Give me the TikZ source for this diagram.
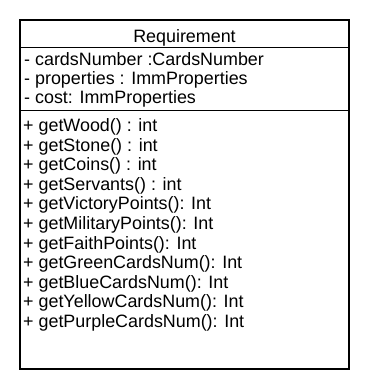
\documentclass[tikz,border=0pt]{standalone}
\usepackage{fontspec}
\setmainfont{Liberation Sans}
\begin{document}
\begin{tikzpicture}[x=1pt,y=-1pt,
  frame/.style={line width=1.2pt},
  member/.style={anchor=base west, inner sep=0pt, font=\fontsize{17.9}{19.6}\selectfont},
  title/.style={anchor=base, inner sep=0pt, font=\fontsize{17.9}{19.6}\selectfont}]
\useasboundingbox (0,0) rectangle (370,390);
\fill[white] (0,0) rectangle (370,390);

% class box with its three compartments
\draw[frame] (20,20) rectangle (349,369);
\draw[frame] (20,47.5) -- (349,47.5);
\draw[frame] (20,110.5) -- (349,110.5);

\node[title] (name) at (184.5,42.5) {Requirement};

% attributes
\node[member] (a1) at (24,65.2) {- cardsNumber :CardsNumber};
\node[member] (a2) at (24,84.6) {- properties : ImmProperties};
\node[member] (a3) at (24,103.6) {- cost: ImmProperties};

% operations
\foreach \t [count=\i from 0] in {
  {+ getWood() : int},
  {+ getStone() : int},
  {+ getCoins() : int},
  {+ getServants() : int},
  {+ getVictoryPoints(): Int},
  {+ getMilitaryPoints(): Int},
  {+ getFaithPoints(): Int},
  {+ getGreenCardsNum(): Int},
  {+ getBlueCardsNum(): Int},
  {+ getYellowCardsNum(): Int},
  {+ getPurpleCardsNum(): Int}}
  \node[member] (m\i) at (23,131.4+19.6*\i) {\t};
\end{tikzpicture}
\end{document}
